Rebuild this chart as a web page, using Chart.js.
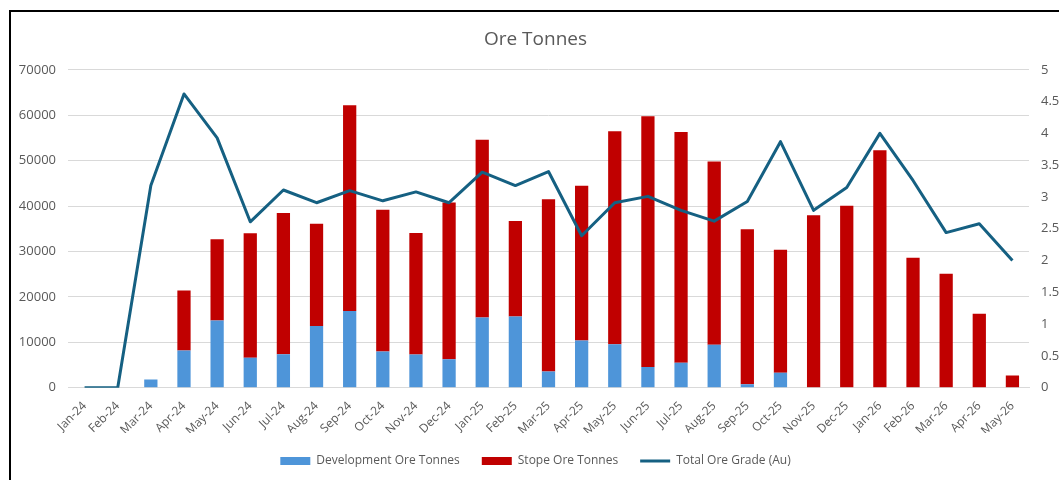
<!DOCTYPE html>
<html>
<head>
<meta charset="utf-8">
<script src="https://cdn.jsdelivr.net/npm/chart.js@4"></script>
<style>
  body { margin: 0; background: #fff; }
  #wrap { position: absolute; left: 0; top: 0; width: 1059px; height: 480px; }
</style>
</head>
<body>
<div id="wrap"><canvas id="myChart" width="1059" height="480"></canvas></div>
<script>
// months
const months = ["Jan-24","Feb-24","Mar-24","Apr-24","May-24","Jun-24","Jul-24","Aug-24","Sep-24","Oct-24","Nov-24","Dec-24",
  "Jan-25","Feb-25","Mar-25","Apr-25","May-25","Jun-25","Jul-25","Aug-25","Sep-25","Oct-25","Nov-25","Dec-25",
  "Jan-26","Feb-26","Mar-26","Apr-26","May-26"];

// tonnes
const devTonnes = [0, 0, 1800, 8200, 14800, 6600, 7400, 13600, 16900, 8000, 7300, 6300,
  15500, 15700, 3600, 10400, 9600, 4600, 5500, 9500, 800, 3300, 0, 0,
  0, 0, 0, 0, 0];
const stopeTonnes = [0, 0, 0, 13200, 17900, 27400, 31100, 22500, 45300, 31200, 26800, 34500,
  39100, 21000, 37900, 34100, 46900, 55200, 50800, 40300, 34100, 27100, 38000, 40100,
  52300, 28600, 25100, 16300, 2700];

// grade (right axis)
const oreGrade = [0, 0, 3.18, 4.62, 3.93, 2.61, 3.11, 2.91, 3.10, 2.94, 3.08, 2.91,
  3.39, 3.18, 3.40, 2.39, 2.91, 3.01, 2.79, 2.62, 2.93, 3.87, 2.79, 3.15,
  4.00, 3.26, 2.44, 2.58, 2.00];

const txt = "#595959";
const fontFam = "'Open Sans', 'Liberation Sans', sans-serif";

// white background + the black frame line at top/left
const frame = {
  id: "frame",
  beforeDraw(chart) {
    const c = chart.ctx;
    c.save();
    c.fillStyle = "#fff";
    c.fillRect(0, 0, chart.width, chart.height);
    c.strokeStyle = "#000";
    c.lineWidth = 2;
    c.beginPath();
    c.moveTo(10, chart.height);
    c.lineTo(10, 11);
    c.lineTo(chart.width, 11);
    c.stroke();
    c.restore();
  }
};

const ctx = document.getElementById("myChart");
new Chart(ctx, {
  type: "bar",
  data: {
    labels: months,
    datasets: [
      {
        label: "Development Ore Tonnes",
        data: devTonnes,
        backgroundColor: "#4E95D9",
        yAxisID: "y",
        stack: "ore",
        order: 2
      },
      {
        label: "Stope Ore Tonnes",
        data: stopeTonnes,
        backgroundColor: "#C00000",
        yAxisID: "y",
        stack: "ore",
        order: 2
      },
      {
        type: "line",
        label: "Total Ore Grade (Au)",
        data: oreGrade,
        borderColor: "#156082",
        backgroundColor: "#156082",
        borderWidth: 3,
        pointRadius: 0,
        tension: 0,
        borderJoinStyle: "round",
        yAxisID: "y1",
        order: 1
      }
    ]
  },
  options: {
    responsive: false,
    animation: false,
    layout: { padding: { left: 12, right: 0, top: 28, bottom: 3 } },
    datasets: {
      bar: { categoryPercentage: 1, barPercentage: 0.4 }
    },
    plugins: {
      title: {
        display: true,
        text: "Ore Tonnes",
        color: txt,
        font: { family: fontFam, size: 19, weight: "normal" },
        padding: { top: 0, bottom: 19 }
      },
      legend: {
        position: "bottom",
        labels: {
          color: txt,
          font: { family: fontFam, size: 12 },
          usePointStyle: true,
          pointStyleWidth: 30,
          boxHeight: 8,
          padding: 22,
          sort: (a, b) => a.datasetIndex - b.datasetIndex,
          generateLabels(chart) {
            const items = Chart.defaults.plugins.legend.labels.generateLabels(chart);
            items.forEach(it => {
              const isLine = it.datasetIndex === 2;
              const ds = chart.data.datasets[it.datasetIndex];
              it.pointStyle = isLine ? "line" : "rect";
              it.lineWidth = isLine ? 3 : 0;
              it.fillStyle = ds.backgroundColor;
              it.strokeStyle = isLine ? ds.borderColor : ds.backgroundColor;
            });
            return items;
          }
        }
      },
      tooltip: { enabled: false }
    },
    scales: {
      x: {
        stacked: true,
        grid: { display: false },
        border: { color: "#d9d9d9", width: 1 },
        ticks: {
          color: txt,
          font: { family: fontFam, size: 12 },
          minRotation: 45,
          maxRotation: 45,
          autoSkip: false
        },
        afterFit(s) { s.height = s.height - 8; }
      },
      y: {
        stacked: true,
        position: "left",
        min: 0,
        max: 70000,
        grid: { color: "#d9d9d9", drawTicks: false },
        border: { display: false },
        ticks: {
          stepSize: 10000,
          color: txt,
          padding: 12,
          font: { family: fontFam, size: 13 },
          callback: v => String(v)
        },
        afterFit(s) { s.width = 56; }
      },
      y1: {
        position: "right",
        min: 0,
        max: 5,
        grid: { display: false, drawTicks: false },
        border: { display: false },
        ticks: {
          stepSize: 0.5,
          color: txt,
          padding: 12,
          font: { family: fontFam, size: 13 },
          callback: v => String(v)
        },
        afterFit(s) { s.width = 30; }
      }
    }
  },
  plugins: [frame]
});
</script>
</body>
</html>
